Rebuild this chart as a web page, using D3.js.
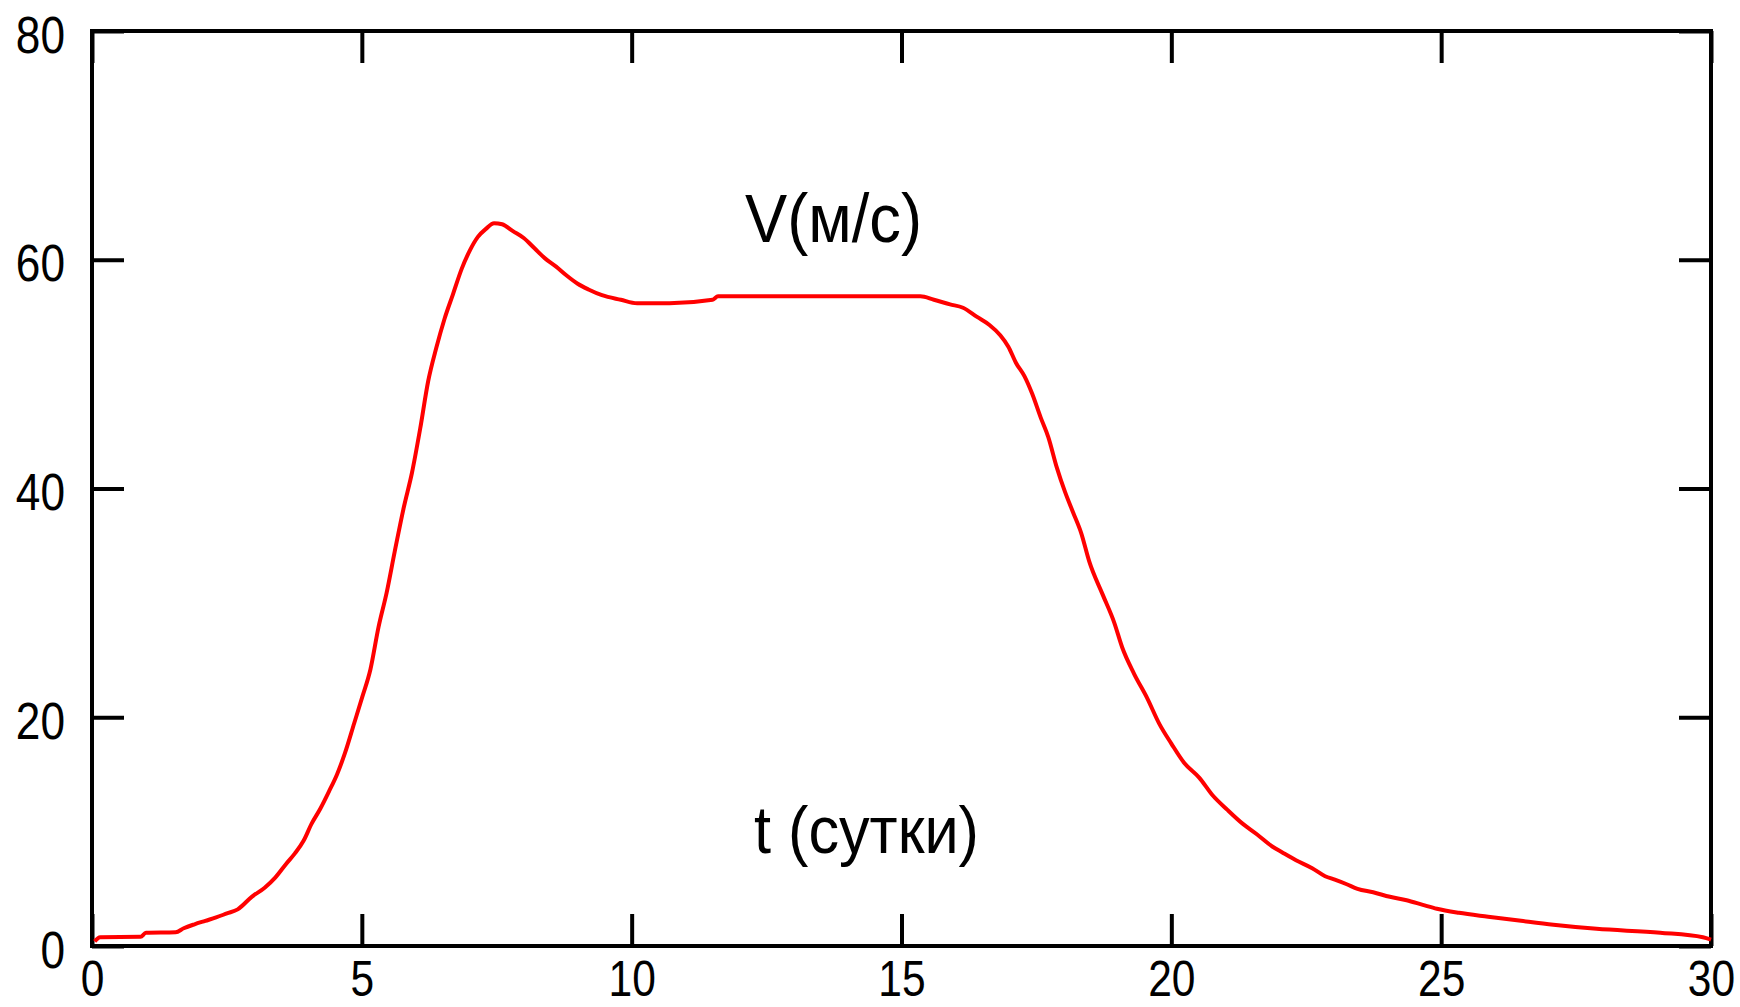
<!DOCTYPE html>
<html>
<head>
<meta charset="utf-8">
<script src="https://cdn.jsdelivr.net/npm/d3@7"></script>
<style>
  body { margin: 0; background: #fff; }
</style>
</head>
<body>
<div id="viz_container"></div>
<script>
// time, days
var tDays = [0.05, 0.15, 0.9, 1.0, 1.55, 1.7, 1.9, 2.1, 2.3, 2.5, 2.7, 2.96, 3.2, 3.4, 3.6, 3.76, 3.92,
    4.07, 4.23, 4.39, 4.54, 4.69, 4.86, 5.01, 5.16, 5.31, 5.46, 5.61, 5.78, 5.93, 6.08, 6.23, 6.38,
    6.53, 6.69, 6.85, 7.0, 7.15, 7.3, 7.45, 7.6, 7.8, 8.0, 8.2, 8.4, 8.6, 8.8, 9.0, 9.2, 9.45, 9.8,
    10.1, 10.7, 11.5, 11.6, 15.35, 15.6, 15.9, 16.14, 16.4, 16.63, 16.83, 16.98, 17.12, 17.28, 17.42,
    17.58, 17.72, 17.88, 18.03, 18.18, 18.33, 18.48, 18.73, 18.94, 19.09, 19.31, 19.55, 19.78, 20.0,
    20.24, 20.52, 20.76, 21.04, 21.32, 21.59, 21.87, 22.05, 22.31, 22.61, 22.85, 23.03, 23.25, 23.45,
    23.74, 24.05, 24.36, 24.66, 24.92, 25.33, 25.87, 26.48, 27.08, 27.88, 29.06, 29.85, 30];

// velocity, m/s
var vSpeed = [0.4, 0.77, 0.8, 1.15, 1.2, 1.55, 1.9, 2.2, 2.5, 2.85, 3.2, 4.3, 5.1, 6.0, 7.2, 8.1, 9.2,
    10.7, 12.0, 13.5, 15.0, 16.9, 19.5, 21.8, 24.2, 27.9, 30.9, 34.5, 38.4, 41.4, 45.2, 49.4, 52.3,
    54.8, 57.0, 59.2, 60.8, 62.0, 62.7, 63.2, 63.1, 62.5, 61.9, 61.0, 60.1, 59.4, 58.6, 57.9, 57.4, 56.9, 56.5,
    56.2, 56.2, 56.5, 56.8, 56.8, 56.5, 56.1, 55.8, 55.0, 54.3, 53.4, 52.4, 51.0, 49.8, 48.3,
    46.2, 44.5, 41.8, 39.7, 37.9, 36.1, 33.6, 30.7, 28.3, 26.1, 23.8, 21.7, 19.4, 17.7,
    16.0, 14.7, 13.2, 11.9, 10.7, 9.75, 8.7, 8.2, 7.5, 6.8, 6.1, 5.8, 5.4, 5.0,
    4.7, 4.3, 4.0, 3.6, 3.26, 2.9, 2.56, 2.2, 1.86, 1.5, 1.16, 0.76, 0.55];

var xTicks = [0, 5, 10, 15, 20, 25, 30];
var yTicks = [0, 20, 40, 60, 80];
var yTitle = "V(м/с)";
var xTitle = "t (сутки)";

var width = 1740, height = 1007;
var tickLen = 32;
var narrow = 0.85;

var svg = d3.select("#viz_container").append("svg")
    .attr("width", width)
    .attr("height", height);

var x = d3.scaleLinear().domain([0, 30]).range([92, 1711]);
var y = d3.scaleLinear().domain([0, 80]).range([946, 31]);

var points = tDays.map(function (t, i) { return [t, vSpeed[i]]; });

// inward ticks on all four sides
function styleAxis(g) {
    g.select(".domain").remove();
    g.selectAll(".tick line")
        .attr("stroke", "#000")
        .attr("stroke-width", 4);
    g.attr("font-family", "'Liberation Sans', Arial, sans-serif")
        .attr("font-size", 52);
    g.selectAll(".tick text").attr("fill", "#000");
}

svg.append("g")
    .attr("transform", "translate(" + x(0) + ",0)")
    .call(d3.axisLeft(y).tickValues(yTicks).tickSizeInner(-tickLen).tickSizeOuter(0).tickPadding(26))
    .call(styleAxis)
    .call(function (g) {
        g.selectAll(".tick text")
            .attr("dy", null)
            .attr("y", 21)
            .attr("x", -27 / narrow)
            .attr("transform", "scale(" + narrow + ",1)");
    });

svg.append("g")
    .attr("transform", "translate(" + x(30) + ",0)")
    .call(d3.axisRight(y).tickValues(yTicks).tickSizeInner(-tickLen).tickSizeOuter(0).tickFormat(""))
    .call(styleAxis);

// bottom labels kept just above the page edge
svg.append("g")
    .attr("transform", "translate(0," + y(0) + ")")
    .call(d3.axisBottom(x).tickValues(xTicks).tickSizeInner(-tickLen).tickSizeOuter(0))
    .call(styleAxis)
    .call(function (g) {
        g.attr("font-size", 50);
        g.selectAll(".tick text")
            .attr("dy", null)
            .attr("y", 50)
            .attr("transform", "scale(" + narrow + ",1)");
    });

svg.append("g")
    .attr("transform", "translate(0," + y(80) + ")")
    .call(d3.axisTop(x).tickValues(xTicks).tickSizeInner(-tickLen).tickSizeOuter(0).tickFormat(""))
    .call(styleAxis);

// frame
svg.append("rect")
    .attr("x", x(0))
    .attr("y", y(80))
    .attr("width", x(30) - x(0))
    .attr("height", y(0) - y(80))
    .attr("fill", "none")
    .attr("stroke", "#000")
    .attr("stroke-width", 4);

// the curve
var line = d3.line()
    .x(function (d) { return x(d[0]); })
    .y(function (d) { return y(d[1]); })
    .curve(d3.curveMonotoneX);

svg.append("path")
    .datum(points)
    .attr("d", line)
    .attr("fill", "none")
    .attr("stroke", "#ff0000")
    .attr("stroke-width", 4);

// labels inside the plot
svg.append("text")
    .attr("x", 745)
    .attr("y", 242)
    .attr("textLength", 177)
    .attr("lengthAdjust", "spacingAndGlyphs")
    .style("font-family", "'Liberation Sans', Arial, sans-serif")
    .style("font-size", "68px")
    .style("fill", "black")
    .text(yTitle);

svg.append("text")
    .attr("x", 754)
    .attr("y", 853)
    .attr("textLength", 225)
    .attr("lengthAdjust", "spacingAndGlyphs")
    .style("font-family", "'Liberation Sans', Arial, sans-serif")
    .style("font-size", "66px")
    .style("fill", "black")
    .text(xTitle);
</script>
</body>
</html>
